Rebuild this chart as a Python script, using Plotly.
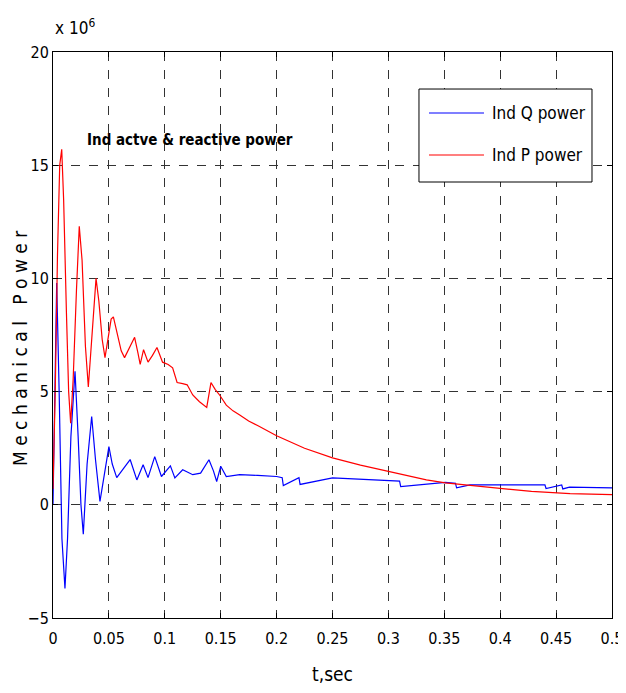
"""
Potência mecânica do gerador de indução: P e Q ao longo do tempo (estilo MATLAB).
"""

import plotly.graph_objects as go

# ==========================================
# DADOS (valores em x 10^6)
# ==========================================
T_P = [0, 0.002, 0.004, 0.006, 0.0078, 0.0095, 0.012, 0.014, 0.0158, 0.018,
       0.021, 0.0235, 0.026, 0.029, 0.0316, 0.034, 0.037, 0.0385, 0.041, 0.044,
       0.0465, 0.049, 0.052, 0.054, 0.057, 0.061, 0.064, 0.068, 0.073, 0.076,
       0.078, 0.081, 0.085, 0.089, 0.093, 0.098, 0.103, 0.107, 0.111, 0.116,
       0.12, 0.125, 0.131, 0.1375, 0.1413, 0.145, 0.149, 0.155, 0.161, 0.167,
       0.175, 0.183, 0.2, 0.225, 0.25, 0.275, 0.3, 0.32, 0.334, 0.351,
       0.365, 0.38, 0.401, 0.428, 0.4625, 0.5]
P_POWER = [0.7, 5, 11, 15, 15.7, 13.5, 8.5, 5, 3.6, 5.5,
           9.5, 12.3, 10.8, 7, 5.2, 7, 9.3, 10.0, 9.0, 7.3,
           6.5, 7.3, 8.2, 8.3, 7.6, 6.8, 6.5, 6.9, 7.4, 6.7,
           6.2, 6.85, 6.3, 6.6, 6.95, 6.3, 6.2, 6.05, 5.4, 5.35,
           5.3, 4.85, 4.55, 4.3, 5.4, 5.1, 4.85, 4.4, 4.15, 3.97,
           3.7, 3.5, 3.05, 2.5, 2.07, 1.75, 1.47, 1.25, 1.1, 0.97,
           0.9, 0.8, 0.7, 0.59, 0.49, 0.45]

T_Q = [0, 0.0015, 0.0033, 0.0055, 0.008, 0.0107, 0.013, 0.016, 0.0197, 0.0225,
       0.025, 0.0271, 0.0305, 0.0346, 0.038, 0.042, 0.046, 0.05, 0.053, 0.057,
       0.063, 0.069, 0.075, 0.0806, 0.085, 0.091, 0.097, 0.105, 0.109, 0.116,
       0.125, 0.132, 0.1395, 0.1435, 0.1464, 0.15, 0.155, 0.167, 0.183, 0.2,
       0.205, 0.206, 0.22, 0.221, 0.25, 0.3, 0.31, 0.311, 0.351, 0.36,
       0.361, 0.373, 0.44, 0.441, 0.455, 0.456, 0.462, 0.5]
Q_POWER = [0, 5, 9.8, 5, -1.5, -3.7, -1.5, 3, 5.9, 3,
           0, -1.3, 1.8, 3.9, 2, 0.15, 1.3, 2.57, 1.8, 1.2,
           1.6, 2.0, 1.1, 1.77, 1.2, 2.13, 1.25, 1.72, 1.19, 1.55,
           1.33, 1.4, 1.99, 1.5, 1.03, 1.7, 1.25, 1.33, 1.3, 1.25,
           1.2, 0.85, 1.2, 0.9, 1.19, 1.07, 1.05, 0.8, 0.99, 0.95,
           0.75, 0.88, 0.88, 0.72, 0.88, 0.7, 0.78, 0.75]

X_TICKS = [0, 0.05, 0.1, 0.15, 0.2, 0.25, 0.3, 0.35, 0.4, 0.45, 0.5]
X_LABELS = ["0", "0.05", "0.1", "0.15", "0.2", "0.25", "0.3", "0.35", "0.4", "0.45", "0.5"]
Y_TICKS = [-5, 0, 5, 10, 15, 20]

SERIES = ["Ind Q power", "Ind P power"]
CORES = ["#0000ff", "#ff0000"]

FONTE = "DejaVu Sans Condensed, Liberation Sans Narrow, Liberation Sans, sans-serif"

# ==========================================
# FIGURA
# ==========================================
fig = go.Figure()
fig.add_trace(go.Scatter(x=T_Q, y=Q_POWER, mode="lines", name=SERIES[0],
                         line=dict(color=CORES[0], width=1.2)))
fig.add_trace(go.Scatter(x=T_P, y=P_POWER, mode="lines", name=SERIES[1],
                         line=dict(color=CORES[1], width=1.2)))

eixo = dict(showline=True, linecolor="black", linewidth=1, mirror="ticks",
            ticks="inside", ticklen=5, tickcolor="black", automargin=False,
            ticklabeloverflow="allow",
            showgrid=True, gridcolor="#333333", griddash="dash", gridwidth=1,
            zeroline=False, tickfont=dict(size=16, color="black", family=FONTE))

fig.update_xaxes(range=[0, 0.5], tickvals=X_TICKS, ticktext=X_LABELS, ticklabelstandoff=6,
                 title=dict(text="t,sec", font=dict(size=19, family=FONTE, color="black"), standoff=26),
                 **eixo)
fig.update_yaxes(range=[-5, 20], tickvals=Y_TICKS, **eixo)

# título do eixo y (letras espaçadas, como no original)
fig.add_annotation(x=-0.059, y=0.477, xref="paper", yref="paper", textangle=-90,
                   xanchor="center", yanchor="middle",
                   text="M e c h a n i c a l   P o w e r", showarrow=False,
                   font=dict(size=19, family=FONTE, color="black"))

# multiplicador do eixo y e rótulo interno
fig.add_annotation(x=0, y=1.0, xref="paper", yref="paper", xanchor="left", yanchor="bottom",
                   yshift=12, text="x 10<sup>6</sup>", showarrow=False,
                   font=dict(size=17, family=FONTE, color="black"))
fig.add_annotation(x=0.057, y=0.845, xref="paper", yref="paper", xanchor="left", yanchor="middle",
                   text="<b>Ind actve & reactive power</b>", showarrow=False,
                   font=dict(size=15, family=FONTE, color="black"))

# legenda desenhada à mão (caixa no canto superior direito)
fig.add_shape(type="rect", xref="paper", yref="paper", x0=0.6547, x1=0.9642, y0=0.7703, y1=0.9346,
              line=dict(color="black", width=1), fillcolor="white", layer="above")
for i, (nome, cor) in enumerate(zip(SERIES, CORES)):
    ypos = 0.8922 - i * 0.0742
    fig.add_shape(type="line", xref="paper", yref="paper", x0=0.6726, x1=0.771, y0=ypos, y1=ypos,
                  line=dict(color=cor, width=1.2), layer="above")
    fig.add_annotation(x=0.782, y=ypos, xref="paper", yref="paper", xanchor="left",
                       yanchor="middle", text=nome, showarrow=False,
                       font=dict(size=17, family=FONTE, color="black"))

# a página tem margem de 8px no body: figura ajustada para a janela 626x693
fig.update_layout(
    width=618, height=677,
    margin=dict(l=45, r=14, t=44, b=67, autoexpand=False),
    plot_bgcolor="white", paper_bgcolor="white",
    font=dict(family=FONTE, color="black"),
    showlegend=False,
)

fig.write_html("out.html")
